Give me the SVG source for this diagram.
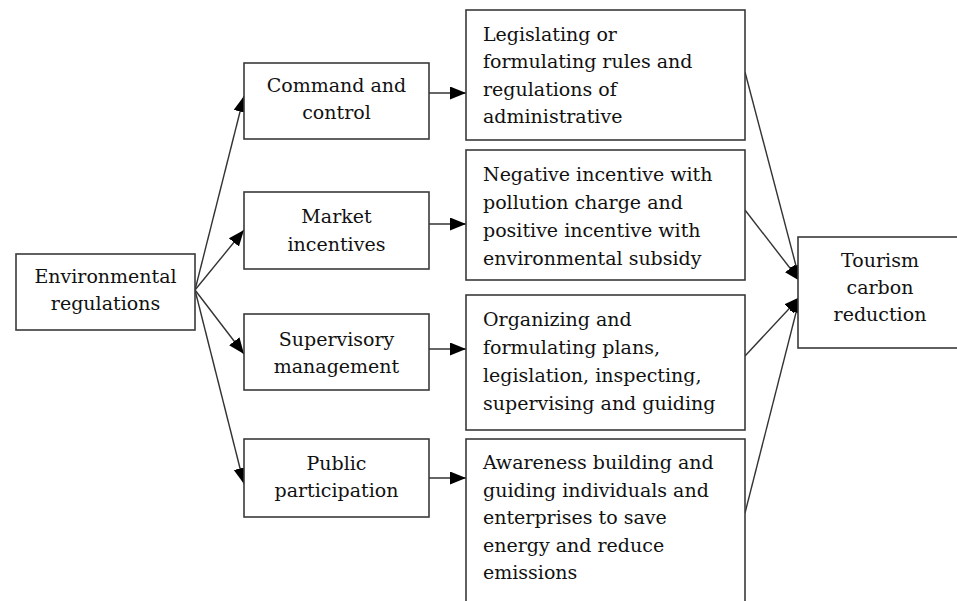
<svg xmlns="http://www.w3.org/2000/svg" width="957" height="601" viewBox="0 0 957 601">
  <style>
    .box { fill: #ffffff; stroke: #3a3a3a; stroke-width: 1.6; }
    .lbl { font-family: "DejaVu Serif", "Liberation Serif", serif; font-size: 19px; fill: #111111; }
    .mid { text-anchor: middle; }
    .edge { stroke: #333333; stroke-width: 1.4; fill: none; marker-end: url(#arrow); }
  </style>
  <defs>
    <marker id="arrow" markerUnits="userSpaceOnUse" markerWidth="17" markerHeight="14" refX="16" refY="6.5" orient="auto">
      <path d="M0,0 L16,6.5 L0,13 z" fill="#000000"/>
    </marker>
  </defs>
  <rect width="957" height="601" fill="#ffffff"/>

  <!-- connectors -->
  <g id="connectors">
    <!-- fan out from the root node -->
    <line class="edge" x1="195" y1="290" x2="244" y2="96"/>
    <line class="edge" x1="195" y1="290" x2="244" y2="230"/>
    <line class="edge" x1="195" y1="290" x2="244" y2="354"/>
    <line class="edge" x1="195" y1="290" x2="244" y2="484"/>
    <!-- instrument to description -->
    <line class="edge" x1="429" y1="93" x2="466" y2="93"/>
    <line class="edge" x1="429" y1="224" x2="466" y2="224"/>
    <line class="edge" x1="429" y1="349" x2="466" y2="349"/>
    <line class="edge" x1="429" y1="478" x2="466" y2="478"/>
    <!-- descriptions converge on the outcome -->
    <line class="edge" x1="745" y1="72" x2="800" y2="281"/>
    <line class="edge" x1="745" y1="210" x2="800" y2="281"/>
    <line class="edge" x1="745" y1="356" x2="800" y2="297"/>
    <line class="edge" x1="745" y1="513" x2="800" y2="297"/>
  </g>

  <g id="environmental-regulations">
    <rect class="box" x="16" y="254" width="179" height="76"/>
    <text class="lbl mid" x="105.5" y="283">Environmental</text>
    <text class="lbl mid" x="105.5" y="310">regulations</text>
  </g>

  <g id="command-and-control">
    <rect class="box" x="244" y="63" width="185" height="76"/>
    <text class="lbl mid" x="336.5" y="92">Command and</text>
    <text class="lbl mid" x="336.5" y="119">control</text>
  </g>

  <g id="market-incentives">
    <rect class="box" x="244" y="192" width="185" height="77"/>
    <text class="lbl mid" x="336.5" y="223">Market</text>
    <text class="lbl mid" x="336.5" y="251">incentives</text>
  </g>

  <g id="supervisory-management">
    <rect class="box" x="244" y="314" width="185" height="76"/>
    <text class="lbl mid" x="336.5" y="346">Supervisory</text>
    <text class="lbl mid" x="336.5" y="373">management</text>
  </g>

  <g id="public-participation">
    <rect class="box" x="244" y="439" width="185" height="78"/>
    <text class="lbl mid" x="336.5" y="470">Public</text>
    <text class="lbl mid" x="336.5" y="497">participation</text>
  </g>

  <g id="legislating">
    <rect class="box" x="466" y="10" width="279" height="130"/>
    <text class="lbl" x="483" y="41">Legislating or</text>
    <text class="lbl" x="483" y="68">formulating rules and</text>
    <text class="lbl" x="483" y="96">regulations of</text>
    <text class="lbl" x="483" y="123">administrative</text>
  </g>

  <g id="incentive-subsidy">
    <rect class="box" x="466" y="150" width="279" height="130"/>
    <text class="lbl" x="483" y="181">Negative incentive with</text>
    <text class="lbl" x="483" y="209">pollution charge and</text>
    <text class="lbl" x="483" y="237">positive incentive with</text>
    <text class="lbl" x="483" y="265">environmental subsidy</text>
  </g>

  <g id="planning-supervision">
    <rect class="box" x="466" y="295" width="279" height="135"/>
    <text class="lbl" x="483" y="326">Organizing and</text>
    <text class="lbl" x="483" y="354">formulating plans,</text>
    <text class="lbl" x="483" y="382">legislation, inspecting,</text>
    <text class="lbl" x="483" y="410">supervising and guiding</text>
  </g>

  <g id="awareness-building">
    <rect class="box" x="466" y="439" width="279" height="175"/>
    <text class="lbl" x="483" y="469">Awareness building and</text>
    <text class="lbl" x="483" y="497">guiding individuals and</text>
    <text class="lbl" x="483" y="524">enterprises to save</text>
    <text class="lbl" x="483" y="552">energy and reduce</text>
    <text class="lbl" x="483" y="579">emissions</text>
  </g>

  <g id="tourism-carbon-reduction">
    <rect class="box" x="798" y="237" width="164" height="111"/>
    <text class="lbl mid" x="880" y="267">Tourism</text>
    <text class="lbl mid" x="880" y="294">carbon</text>
    <text class="lbl mid" x="880" y="321">reduction</text>
  </g>
</svg>
